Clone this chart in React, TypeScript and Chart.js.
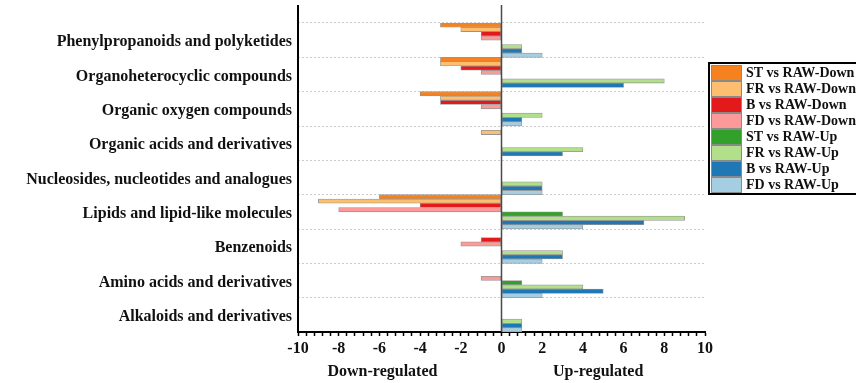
import React, { useEffect, useRef } from 'react';
import { Chart, registerables } from 'chart.js';

Chart.register(...registerables);

const categories = [
  'Phenylpropanoids and polyketides',
  'Organoheterocyclic compounds',
  'Organic oxygen compounds',
  'Organic acids and derivatives',
  'Nucleosides, nucleotides and analogues',
  'Lipids and lipid-like molecules',
  'Benzenoids',
  'Amino acids and derivatives',
  'Alkaloids and derivatives',
];

const seriesNames = [
  'ST vs RAW-Down',
  'FR vs RAW-Down',
  'B vs RAW-Down',
  'FD vs RAW-Down',
  'ST vs RAW-Up',
  'FR vs RAW-Up',
  'B vs RAW-Up',
  'FD vs RAW-Up',
];

const seriesColors = ['#F6821F', '#FDBF6F', '#E31A1C', '#FB9A99', '#33A02C', '#B2DF8A', '#1F78B4', '#A6CEE3'];

const stDown = [-3, -3, -4, 0, 0, -6, 0, 0, 0];
const frDown = [-2, -3, -3, -1, 0, -9, 0, 0, 0];
const bDown = [-1, -2, -3, 0, 0, -4, -1, 0, 0];
const fdDown = [-1, -1, -1, 0, 0, -8, -2, -1, 0];
const stUp = [0, 0, 0, 0, 0, 3, 0, 1, 0];
const frUp = [1, 8, 2, 4, 2, 9, 3, 4, 1];
const bUp = [1, 6, 1, 3, 2, 7, 3, 5, 1];
const fdUp = [2, 0, 1, 0, 2, 4, 2, 2, 1];

const seriesValues = [stDown, frDown, bDown, fdDown, stUp, frUp, bUp, fdUp];

const xMin = -10;
const xMax = 10;
const xMinorStep = 0.4;
const regionLabels = [
  { text: 'Down-regulated', at: -5.85 },
  { text: 'Up-regulated', at: 4.75 },
];

const FONT = "'Liberation Serif', 'Times New Roman', serif";

const extrasPlugin = {
  id: 'extras',
  afterDraw(chart: any) {
    const { ctx, chartArea } = chart;
    const x = chart.scales.x;
    ctx.save();
    // zero line
    const x0 = x.getPixelForValue(0);
    ctx.strokeStyle = '#4a4a4a';
    ctx.lineWidth = 1.5;
    ctx.beginPath();
    ctx.moveTo(x0, 5);
    ctx.lineTo(x0, chartArea.bottom);
    ctx.stroke();
    // left axis
    ctx.strokeStyle = '#000';
    ctx.lineWidth = 2;
    ctx.beginPath();
    ctx.moveTo(chartArea.left, 5);
    ctx.lineTo(chartArea.left, chartArea.bottom + 1);
    ctx.stroke();
    // region labels
    ctx.fillStyle = '#111';
    ctx.font = `bold 16px ${FONT}`;
    ctx.textAlign = 'center';
    ctx.textBaseline = 'middle';
    regionLabels.forEach((r) => {
      ctx.fillText(r.text, x.getPixelForValue(r.at), chartArea.bottom + 40);
    });
    // legend
    const lx = chartArea.right + 4;
    const ly = 63;
    const rowH = 16;
    const n = chart.data.datasets.length;
    ctx.strokeStyle = '#000';
    ctx.lineWidth = 2;
    ctx.strokeRect(lx, ly, 200, n * rowH + 3);
    ctx.font = `bold 14px ${FONT}`;
    ctx.textAlign = 'left';
    chart.data.datasets.forEach((ds: any, i: number) => {
      const by = ly + 2 + i * rowH;
      ctx.fillStyle = ds.backgroundColor;
      ctx.fillRect(lx + 2, by, 31, rowH);
      ctx.strokeStyle = '#8a8a8a';
      ctx.lineWidth = 1;
      ctx.strokeRect(lx + 2.5, by + 0.5, 30, rowH - 1);
      ctx.fillStyle = '#111';
      ctx.fillText(ds.label, lx + 37, by + rowH / 2 + 0.5);
    });
    ctx.restore();
  },
};

export default function App() {
  const ref = useRef<HTMLCanvasElement | null>(null);

  useEffect(() => {
    if (!ref.current) return;
    const chart = new Chart(ref.current, {
      type: 'bar',
      data: {
        labels: categories,
        datasets: seriesNames.map((name, i) => ({
          label: name,
          data: seriesValues[i],
          backgroundColor: seriesColors[i],
          borderColor: '#959595',
          borderWidth: 0.8,
          borderSkipped: false,
          categoryPercentage: 1,
          barPercentage: 1,
        })),
      },
      options: {
        indexAxis: 'y',
        animation: false,
        responsive: false,
        layout: { padding: { left: 10, right: 151, top: 23, bottom: 0 } },
        plugins: {
          legend: { display: false },
          tooltip: { enabled: false },
        },
        scales: {
          x: {
            type: 'linear',
            min: xMin,
            max: xMax,
            afterFit(scale: any) {
              scale.height = 51;
            },
            ticks: {
              stepSize: xMinorStep,
              autoSkip: false,
              maxRotation: 0,
              padding: 3,
              color: '#111',
              font: { family: FONT, size: 16, weight: 'bold' },
              callback: (v: any) => {
                const n = Number(v);
                return Math.abs(n / 2 - Math.round(n / 2)) < 1e-6 ? String(Math.round(n)) : '';
              },
            },
            grid: {
              drawOnChartArea: false,
              drawTicks: true,
              tickLength: 4,
              tickColor: '#000',
              tickWidth: 1.5,
            },
            border: { display: true, color: '#000', width: 2 },
          },
          y: {
            type: 'category',
            afterFit(scale: any) {
              scale.width = 288;
            },
            ticks: {
              padding: 6,
              labelOffset: 2,
              color: '#111',
              font: { family: FONT, size: 16, weight: 'bold' },
            },
            grid: {
              offset: true,
              color: '#cccccc',
              lineWidth: 1,
              drawTicks: false,
            },
            border: { display: false, dash: [2, 2] },
          },
        },
      },
      plugins: [extrasPlugin],
    });
    return () => chart.destroy();
  }, []);

  return (
    <div style={{ position: 'absolute', left: 0, top: 0, width: 856, height: 383, background: '#fff' }}>
      <canvas ref={ref} width={856} height={383} style={{ width: 856, height: 383, display: 'block' }} />
    </div>
  );
}
